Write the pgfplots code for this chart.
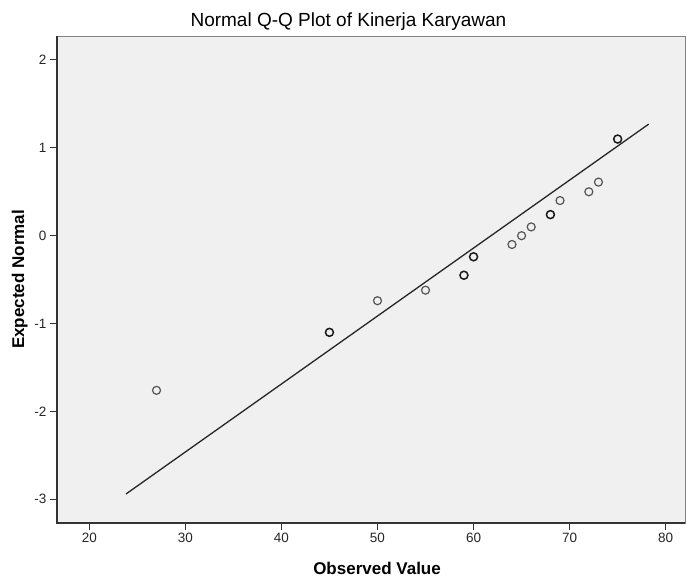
\documentclass[border=0pt]{standalone}
\usepackage{pgfplots}
\pgfplotsset{compat=1.18}
\usepackage{fontspec}
\setmainfont{Liberation Sans}
\definecolor{bgc}{HTML}{F0F0F0}
\definecolor{axc}{HTML}{333333}
\definecolor{frc}{HTML}{808080}
\definecolor{ptc}{HTML}{555555}
\definecolor{dupc}{HTML}{1A1A1A}
\begin{document}
\begin{tikzpicture}
\begin{axis}[
  scale only axis,
  width=628bp, height=487bp,
  xmin=16.64, xmax=82.01,
  ymin=-3.27, ymax=2.273,
  xtick={20,30,40,50,60,70,80},
  ytick={-3,-2,-1,0,1,2},
  axis background/.style={fill=bgc},
  axis line style={draw=frc, line width=0.9bp},
  tick align=outside,
  xtick pos=bottom, ytick pos=left,
  major tick length=7bp,
  tick style={draw=axc, line width=1bp},
  /pgf/number format/assume math mode=true,
  ticklabel style={font=\fontsize{13.5bp}{16bp}\selectfont, text=black!85},
  clip=false,
]
\addplot[color=black!85, line width=1.3bp] coordinates {(23.82,-2.94) (78.23,1.27)};
\addplot[only marks, mark=o, mark size=4bp, mark options={draw=ptc, line width=1.2bp}] coordinates {
 (27,-1.76) (50,-0.74) (55,-0.62) (64,-0.10) (65,0.00) (66,0.10) (69,0.40) (72,0.50) (73,0.61)};
\addplot[only marks, mark=o, mark size=4bp, mark options={draw=dupc, line width=1.5bp}] coordinates {
 (45,-1.10) (59,-0.45) (60,-0.24) (68,0.24) (75,1.10)};
\coordinate (sw) at (rel axis cs:0,0);
\coordinate (ne) at (rel axis cs:1,1);
\coordinate (nw) at (rel axis cs:0,1);
\coordinate (se) at (rel axis cs:1,0);
\coordinate (tt) at (rel axis cs:0.464,1);
\coordinate (xl) at (rel axis cs:0.5096,0);
\coordinate (yl) at (rel axis cs:0,0.5);
\end{axis}
\draw[axc, line width=1.2bp] (nw) -- (sw) -- (se);
\node[anchor=base, inner sep=0pt, font=\fontsize{19bp}{22bp}\selectfont] at ([yshift=9bp]tt) {Normal Q-Q Plot of Kinerja Karyawan};
\node[anchor=base, inner sep=0pt, font=\fontsize{17bp}{20bp}\selectfont\bfseries] at ([yshift=-51bp]xl) {Observed Value};
\node[anchor=base, inner sep=0pt, rotate=90, font=\fontsize{17bp}{20bp}\selectfont\bfseries] at ([xshift=-33bp]yl) {Expected Normal};
\pgfresetboundingbox
\path ([shift={(-57bp,-54bp)}]sw) rectangle ([shift={(2bp,36bp)}]ne);
\end{tikzpicture}
\end{document}
